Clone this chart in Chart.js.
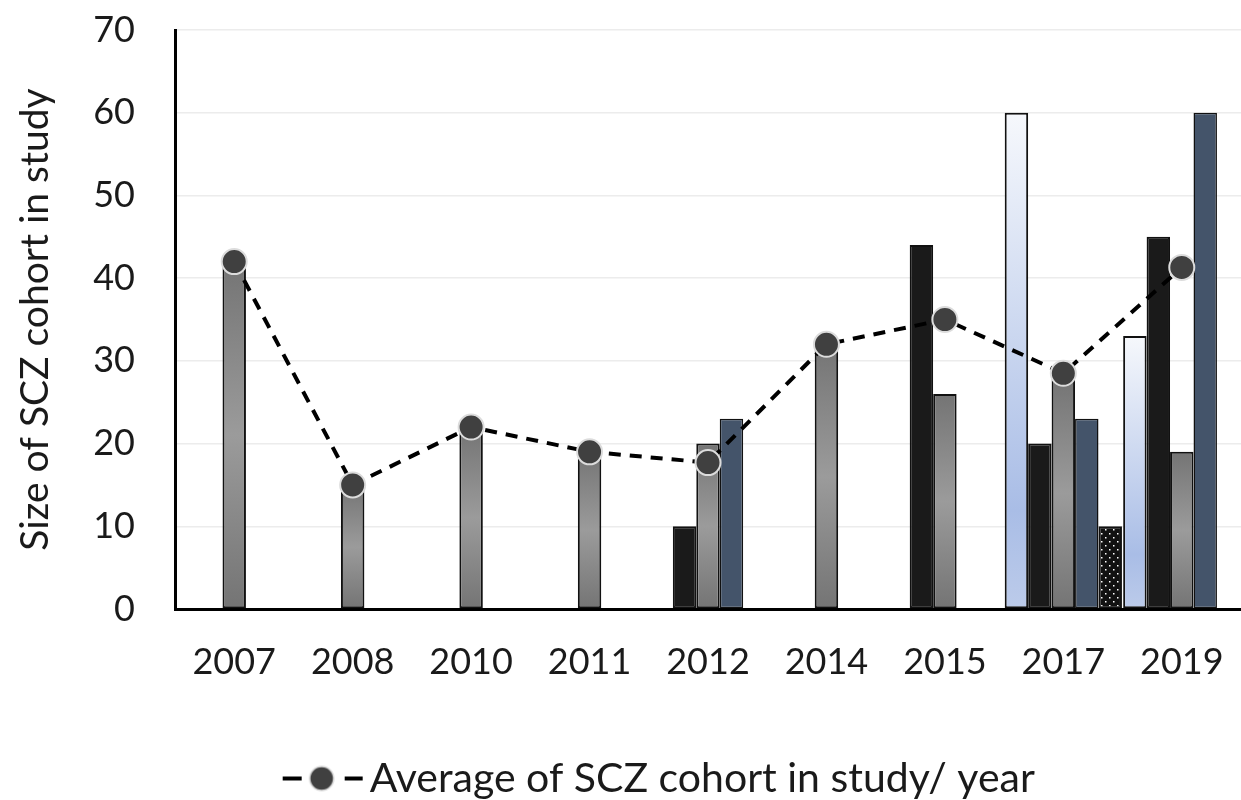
<!DOCTYPE html>
<html>
<head>
<meta charset="utf-8">
<title>SCZ cohort size by year</title>
<script src="https://cdn.jsdelivr.net/npm/chart.js@4/dist/chart.umd.min.js"></script>
<style>
  body { margin: 0; background: #fff; }
  canvas { display: block; }
</style>
</head>
<body>
<canvas id="chart" width="1241" height="800"></canvas>
<script>
// ── Data ─────────────────────────────────────────────────────
const years = ["2007", "2008", "2010", "2011", "2012", "2014", "2015", "2017", "2019"];
const studyLight = [null, null, null, null, null, null, null, 60, 33];
const studyBlack = [null, null, null, null, 10, null, 44, 20, 45];
const studyGray = [42, 15, 22, 19, 20, 32, 26, 28, 19];
const studyNavy = [null, null, null, null, 23, null, null, 23, 60];
const studyDotted = [null, null, null, null, null, null, null, 10, null];
const yearAverage = [42, 15, 22, 19, 17.7, 32, 35, 28.5, 41.3];
const yTicks = [0, 10, 20, 30, 40, 50, 60, 70];

const FONT = "Lato";
const TEXT = "#1a1a1a";

// ── Fills ────────────────────────────────────────────────────

// gradient running over one bar, top to bottom
function barGradient(stops) {
  return (ctx) => {
    const chart = ctx.chart;
    const y = chart.scales && chart.scales.y;
    if (!y || ctx.raw == null || !chart.chartArea) return stops[0][1];
    const top = y.getPixelForValue(ctx.raw);
    const bottom = y.getPixelForValue(0);
    const g = chart.ctx.createLinearGradient(0, top, 0, bottom);
    stops.forEach(([at, c]) => g.addColorStop(at, c));
    return g;
  };
}

const grayFill = barGradient([[0, "#747474"], [0.5, "#9b9b9b"], [1, "#747474"]]);
const lightFill = barGradient([[0, "#f6f8fc"], [0.8, "#a9bde6"], [1, "#bccbea"]]);

function dotPattern() {
  const c = document.createElement("canvas");
  c.width = 8;
  c.height = 8;
  const p = c.getContext("2d");
  p.fillStyle = "#111";
  p.fillRect(0, 0, 8, 8);
  p.fillStyle = "#fff";
  p.fillRect(1, 1, 1.5, 1.5);
  p.fillRect(5, 5, 1.5, 1.5);
  return document.getElementById("chart").getContext("2d").createPattern(c, "repeat");
}

// legend icon: dash, dot, dash — drawn at the right end of a wider
// canvas so the icon sits close to the text like the original
function legendIcon() {
  const c = document.createElement("canvas");
  c.width = 172;
  c.height = 30;
  const p = c.getContext("2d");
  p.strokeStyle = "#000";
  p.lineWidth = 4;
  p.beginPath();
  p.moveTo(91, 15); p.lineTo(110, 15);
  p.moveTo(153, 15); p.lineTo(171, 15);
  p.stroke();
  p.beginPath();
  p.arc(130, 15, 12, 0, Math.PI * 2);
  p.fillStyle = "#404040";
  p.fill();
  p.strokeStyle = "#d9d9d9";
  p.lineWidth = 1.5;
  p.stroke();
  return c;
}

// ── Chart ────────────────────────────────────────────────────

const barBase = {
  type: "bar",
  order: 1,
  borderColor: "#111",
  borderWidth: 2,
  borderSkipped: false,
  categoryPercentage: 0.99,
  barPercentage: 1,
};

new Chart(document.getElementById("chart"), {
  data: {
    labels: years,
    datasets: [
      {
        type: "line",
        label: "Average of SCZ cohort in study/ year",
        data: yearAverage,
        order: 0,
        borderColor: "#000",
        borderWidth: 4,
        borderDash: [12, 9],
        fill: false,
        tension: 0,
        pointRadius: 12.5,
        pointBackgroundColor: "#404040",
        pointBorderColor: "#dcdcdc",
        pointBorderWidth: 2,
      },
      { ...barBase, label: "Study 1", data: studyLight, backgroundColor: lightFill },
      { ...barBase, label: "Study 2", data: studyBlack, backgroundColor: "#1a1a1a" },
      { ...barBase, label: "Study 3", data: studyGray, backgroundColor: grayFill },
      { ...barBase, label: "Study 4", data: studyNavy, backgroundColor: "#44546a", borderWidth: 1.5 },
      { ...barBase, label: "Study 5", data: studyDotted, backgroundColor: dotPattern() },
    ],
  },
  options: {
    responsive: false,
    animation: false,
    layout: { autoPadding: false, padding: { top: 30, right: 0, bottom: -9, left: 0 } },
    plugins: {
      tooltip: { enabled: false },
      legend: {
        position: "bottom",
        labels: {
          color: TEXT,
          font: { family: FONT, size: 41 },
          usePointStyle: true,
          pointStyleWidth: 143,
          padding: 2,
          generateLabels: () => [
            {
              text: "Average of SCZ cohort in study/ year",
              pointStyle: legendIcon(),
              fillStyle: "#404040",
              strokeStyle: "#000",
              lineWidth: 0,
              fontColor: TEXT,
              datasetIndex: 0,
            },
          ],
        },
      },
    },
    scales: {
      x: {
        grid: { display: false, drawTicks: false },
        border: { color: "#000", width: 3 },
        ticks: { color: TEXT, font: { family: FONT, size: 36 }, padding: 32, maxRotation: 0 },
        afterFit: (s) => { s.height = 147; s.paddingRight = 0; s.paddingLeft = 0; },
      },
      y: {
        min: 0,
        max: 70,
        afterBuildTicks: (s) => { s.ticks = yTicks.map((v) => ({ value: v })); },
        grid: { color: "#ececec", lineWidth: 1.5, drawTicks: false },
        border: { color: "#000", width: 3 },
        ticks: { color: TEXT, font: { family: FONT, size: 36 }, padding: 40 },
        title: {
          display: true,
          text: "Size of SCZ cohort in study",
          color: TEXT,
          font: { family: FONT, size: 39 },
          padding: { top: 12, bottom: 0 },
        },
        afterFit: (s) => { s.width = 175; s.paddingTop = 0; s.paddingBottom = 0; },
      },
    },
  },
});
</script>
</body>
</html>
